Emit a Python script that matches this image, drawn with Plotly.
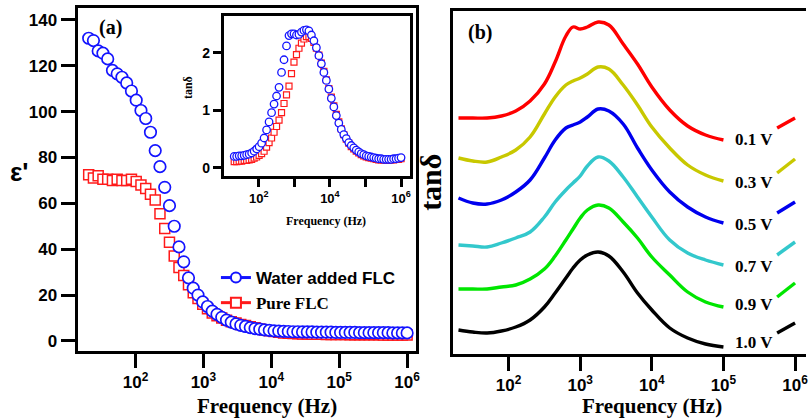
import plotly.graph_objects as go

W, H = 810, 419

# ---------------- data: panel (a) ----------------
log_freq_a = [1.31, 1.38, 1.45, 1.52, 1.59, 1.66, 1.73, 1.80, 1.87, 1.94,
              2.01, 2.08, 2.15, 2.22, 2.29, 2.36, 2.43, 2.50, 2.57, 2.64,
              2.71, 2.78, 2.85, 2.92, 2.99, 3.06, 3.13, 3.20, 3.27, 3.34,
              3.41, 3.48, 3.55, 3.62, 3.69, 3.76, 3.83, 3.90, 3.97, 4.04,
              4.11, 4.18, 4.25, 4.32, 4.39, 4.46, 4.53, 4.60, 4.67, 4.74,
              4.81, 4.88, 4.95, 5.02, 5.09, 5.16, 5.23, 5.30, 5.37, 5.44,
              5.51, 5.58, 5.65, 5.72, 5.79, 5.86, 5.93, 6.00]

eps_water = [132, 131, 126.5, 125.5, 123, 118, 116.5, 115, 112.5, 109,
             105, 100.5, 97, 91, 83, 76, 67, 59, 50, 41,
             34.5, 27.5, 23, 20, 17, 15, 13, 11.6, 10.3, 9.1,
             8.2, 7.4, 6.8, 6.3, 5.8, 5.4, 5.1, 4.8, 4.6, 4.4,
             4.3, 4.2, 4.1, 4.0, 4.0, 3.9, 3.9, 3.9, 3.8, 3.8,
             3.8, 3.8, 3.7, 3.7, 3.7, 3.7, 3.7, 3.6, 3.6, 3.6,
             3.6, 3.6, 3.6, 3.6, 3.5, 3.5, 3.5, 3.5]

eps_pure = [72.5, 71, 72, 70.5, 70.5, 70, 70.5, 70, 70, 70.5,
            69.5, 68, 66.5, 64, 61.5, 55.5, 49, 43, 37, 32,
            28.5, 24.5, 21, 18.5, 16, 14, 12.2, 11, 10, 9,
            8.4, 7.8, 7.2, 6.7, 6.2, 5.7, 5.2, 4.8, 4.4, 4.1,
            3.8, 3.5, 3.3, 3.2, 3.1, 3.0, 3.0, 2.9, 2.9, 2.9,
            2.8, 2.8, 2.8, 2.8, 2.8, 2.7, 2.7, 2.7, 2.7, 2.7,
            2.7, 2.7, 2.6, 2.6, 2.6, 2.6, 2.6, 2.6]

tan_water = [0.20, 0.20, 0.21, 0.21, 0.22, 0.23, 0.24, 0.26, 0.29, 0.33,
             0.37, 0.43, 0.52, 0.66, 0.80, 0.96, 1.11, 1.25, 1.40, 1.66,
             1.88, 2.12, 2.30, 2.33, 2.33, 2.31, 2.32, 2.36, 2.39, 2.40,
             2.38, 2.31, 2.21, 2.09, 1.95, 1.81, 1.66, 1.52, 1.37, 1.21,
             1.06, 0.91, 0.78, 0.67, 0.58, 0.51, 0.44, 0.39, 0.35, 0.31,
             0.28, 0.25, 0.23, 0.21, 0.20, 0.19, 0.18, 0.17, 0.16, 0.16,
             0.15, 0.15, 0.15, 0.15, 0.16, 0.16, 0.17, 0.18]

tan_pure = [0.11, 0.11, 0.12, 0.12, 0.13, 0.13, 0.14, 0.15, 0.17, 0.19,
            0.22, 0.25, 0.29, 0.36, 0.44, 0.52, 0.62, 0.72, 0.83, 0.96,
            1.12, 1.27, 1.42, 1.64, 1.84, 1.97, 2.08, 2.17, 2.24, 2.28,
            2.28, 2.25, 2.18, 2.08, 1.96, 1.82, 1.68, 1.53, 1.38, 1.23,
            1.08, 0.93, 0.80, 0.68, 0.58, 0.50, 0.43, 0.37, 0.33, 0.29,
            0.26, 0.23, 0.21, 0.19, 0.18, 0.17, 0.16, 0.15, 0.14, 0.14,
            0.14, 0.14, 0.14, 0.14, 0.14, 0.15, 0.15, 0.16]

# ---------------- data: panel (b) (curves offset vertically, arb. units) ----
log_freq_b = [1.3, 1.5, 1.7, 1.9, 2.1, 2.3, 2.5, 2.65, 2.8, 2.9, 3.0, 3.1,
              3.25, 3.4, 3.6, 3.8, 4.0, 4.25, 4.5, 4.75, 5.0, 5.4, 5.75, 6.0]
voltages = ["0.1 V", "0.3 V", "0.5 V", "0.7 V", "0.9 V", "1.0 V"]
tan_01V = [2.36, 2.36, 2.36, 2.38, 2.43, 2.53, 2.70, 2.92, 3.18, 3.27, 3.25, 3.27,
           3.32, 3.29, 3.10, 2.90, 2.67, 2.44, 2.28, 2.19, 2.14, None, 2.26, 2.36]
tan_03V = [1.96, 1.93, 1.92, 1.97, 2.04, 2.17, 2.40, 2.57, 2.69, 2.73, 2.76, 2.80,
           2.87, 2.85, 2.69, 2.49, 2.27, 2.06, 1.89, 1.79, 1.73, None, 1.81, 1.95]
tan_05V = [1.56, 1.51, 1.50, 1.54, 1.62, 1.74, 1.96, 2.14, 2.26, 2.29, 2.32, 2.37,
           2.45, 2.43, 2.30, 2.06, 1.84, 1.62, 1.47, 1.37, 1.31, None, 1.41, 1.52]
tan_07V = [1.09, 1.08, 1.07, 1.11, 1.16, 1.22, 1.37, 1.52, 1.64, 1.71, 1.78, 1.88,
           1.97, 1.93, 1.77, 1.57, 1.37, 1.14, 1.01, 0.94, 0.89, None, 0.99, 1.12]
tan_09V = [0.65, 0.65, 0.65, 0.67, 0.69, 0.75, 0.85, 0.98, 1.14, 1.25, 1.36, 1.44,
           1.49, 1.46, 1.32, 1.16, 0.97, 0.79, 0.62, 0.52, 0.47, None, 0.57, 0.71]
tan_10V = [0.24, 0.22, 0.21, 0.23, 0.27, 0.34, 0.47, 0.61, 0.76, 0.86, 0.94, 0.99,
           1.02, 0.98, 0.82, 0.61, 0.44, 0.26, 0.16, 0.10, 0.07, None, 0.21, 0.31]
curve_colors = ["#ff0000", "#c8c800", "#0000ee", "#33c8cc", "#00e600", "#000000"]

assert len(log_freq_a) == len(eps_water) == len(eps_pure) == len(tan_water) == len(tan_pure)

freq_a = [10 ** e for e in log_freq_a]
freq_b = [10 ** e for e in log_freq_b]

BLUE = "#1414ff"
RED = "#ff1a1a"
SANS = "Liberation Sans"
SERIF = "Liberation Serif"


def px(x):
    return x / W


def py(y):
    return 1 - y / H


fig = go.Figure()

# ---- main panel (a)
fig.add_trace(go.Scatter(x=freq_a, y=eps_pure, mode="markers", xaxis="x", yaxis="y",
                         marker=dict(symbol="square", size=10, color="white",
                                     line=dict(color=RED, width=1.5)),
                         showlegend=False))
fig.add_trace(go.Scatter(x=freq_a, y=eps_water, mode="markers", xaxis="x", yaxis="y",
                         marker=dict(symbol="circle", size=11.5, color="white",
                                     line=dict(color=BLUE, width=1.7)),
                         showlegend=False))
# legend entries
fig.add_trace(go.Scatter(x=[None], y=[None], mode="lines+markers", xaxis="x", yaxis="y",
                         name="Water added FLC", legendrank=1,
                         line=dict(color=BLUE, width=3),
                         marker=dict(symbol="circle", size=10, color="white",
                                     line=dict(color=BLUE, width=2))))
fig.add_trace(go.Scatter(x=[None], y=[None], mode="lines+markers", xaxis="x", yaxis="y",
                         name="<span style='font-family:Liberation Serif'>Pure FLC</span>",
                         legendrank=2,
                         line=dict(color=RED, width=3),
                         marker=dict(symbol="square", size=10, color="white",
                                     line=dict(color=RED, width=2))))

# ---- inset
fig.add_trace(go.Scatter(x=freq_a, y=tan_pure, mode="markers", xaxis="x2", yaxis="y2",
                         marker=dict(symbol="square", size=6, color="white",
                                     line=dict(color=RED, width=1.2)),
                         showlegend=False))
fig.add_trace(go.Scatter(x=freq_a, y=tan_water, mode="markers", xaxis="x2", yaxis="y2",
                         marker=dict(symbol="circle", size=7.5, color="white",
                                     line=dict(color=BLUE, width=1.3)),
                         showlegend=False))

# ---- panel (b)
for vals, col in zip([tan_01V, tan_03V, tan_05V, tan_07V, tan_09V, tan_10V], curve_colors):
    fig.add_trace(go.Scatter(x=freq_b, y=vals, mode="lines", xaxis="x3", yaxis="y3",
                             line=dict(color=col, width=3.4, shape="spline", smoothing=1.1),
                             connectgaps=False, showlegend=False))

axis_common = dict(showgrid=False, zeroline=False, showline=True, linecolor="black",
                   linewidth=3, ticks="outside", tickcolor="black")

dec_vals = [1e2, 1e3, 1e4, 1e5, 1e6]
dec_text = ["10<sup>2</sup>", "10<sup>3</sup>", "10<sup>4</sup>", "10<sup>5</sup>", "10<sup>6</sup>"]

fig.update_layout(
    width=W, height=H, margin=dict(l=0, r=0, t=0, b=0),
    paper_bgcolor="white", plot_bgcolor="white",
    xaxis=dict(**axis_common, type="log", range=[1.147, 6.13],
               domain=[px(78), px(418)], anchor="y", mirror=True,
               ticklen=14, tickwidth=3, tickvals=dec_vals, ticktext=dec_text,
               tickfont=dict(family=SANS, size=17, color="black", weight="bold")),
    yaxis=dict(**axis_common, range=[-4.4, 145.2],
               domain=[py(351), py(8)], anchor="x", mirror=True,
               ticklen=14, tickwidth=3, tickvals=[0, 20, 40, 60, 80, 100, 120, 140],
               tickfont=dict(family=SANS, size=17, color="black", weight="bold")),
    xaxis2=dict(**axis_common, type="log", range=[1.02, 6.25],
                domain=[px(225), px(412)], anchor="y2", mirror=True,
                ticklen=8, tickwidth=3, tickvals=[1e2, 1e4, 1e6],
                ticktext=["10<sup>2</sup>", "10<sup>4</sup>", "10<sup>6</sup>"],
                minor=dict(tickvals=[1e3, 1e5], ticks="outside", ticklen=8,
                           tickwidth=3, tickcolor="black", showgrid=False),
                tickfont=dict(family=SANS, size=13, color="black", weight="bold")),
    yaxis2=dict(**axis_common, range=[-0.14, 2.64],
                domain=[py(176), py(16)], anchor="x2", mirror=True,
                ticklen=8, tickwidth=3, tickvals=[0, 1, 2],
                tickfont=dict(family=SANS, size=14, color="black", weight="bold")),
    xaxis3=dict(**axis_common, type="log", range=[1.22, 6.153],
                domain=[px(455), 1.0], anchor="y3", mirror=True,
                ticklen=14, tickwidth=3, tickvals=dec_vals, ticktext=dec_text,
                tickfont=dict(family=SANS, size=17, color="black", weight="bold")),
    yaxis3=dict(showgrid=False, zeroline=False, showline=True, linecolor="black",
                linewidth=3, ticks="", showticklabels=False, range=[0, 3.43],
                domain=[py(354), py(11)], anchor="x3", mirror=False),
    legend=dict(x=px(217), y=py(260), xanchor="left", yanchor="top",
                bgcolor="rgba(0,0,0,0)", tracegroupgap=0,
                font=dict(family=SANS, size=17, color="black", weight="bold")),
)

ann = []


def add_text(text, x, y, size, family, angle=0, weight="bold"):
    ann.append(dict(text=text, x=px(x), y=py(y), xref="paper", yref="paper",
                    xanchor="center", yanchor="middle", showarrow=False,
                    textangle=angle,
                    font=dict(family=family, size=size, color="black", weight=weight)))


add_text("(a)", 111, 27, 20, SERIF)
add_text("(b)", 482, 33, 20, SERIF)
add_text("ε'", 20, 172, 26, SANS)
add_text("Frequency (Hz)", 268, 406, 21, SERIF)
add_text("Frequency (Hz)", 655, 406, 21, SERIF)
add_text("tanδ", 432, 182, 30, SERIF, angle=-90)
add_text("tanδ", 189, 88, 12, SERIF, angle=-90)
add_text("Frequency (Hz)", 328, 221, 12, SERIF)

label_y = [139, 182, 224, 266, 304, 342]
for lab, yy in zip(voltages, label_y):
    add_text(lab, 758, yy, 17, SERIF)

fig.update_layout(annotations=ann)

fig.write_html("out.html", post_script="document.body.style.margin='0';",
               config={"displayModeBar": False})
